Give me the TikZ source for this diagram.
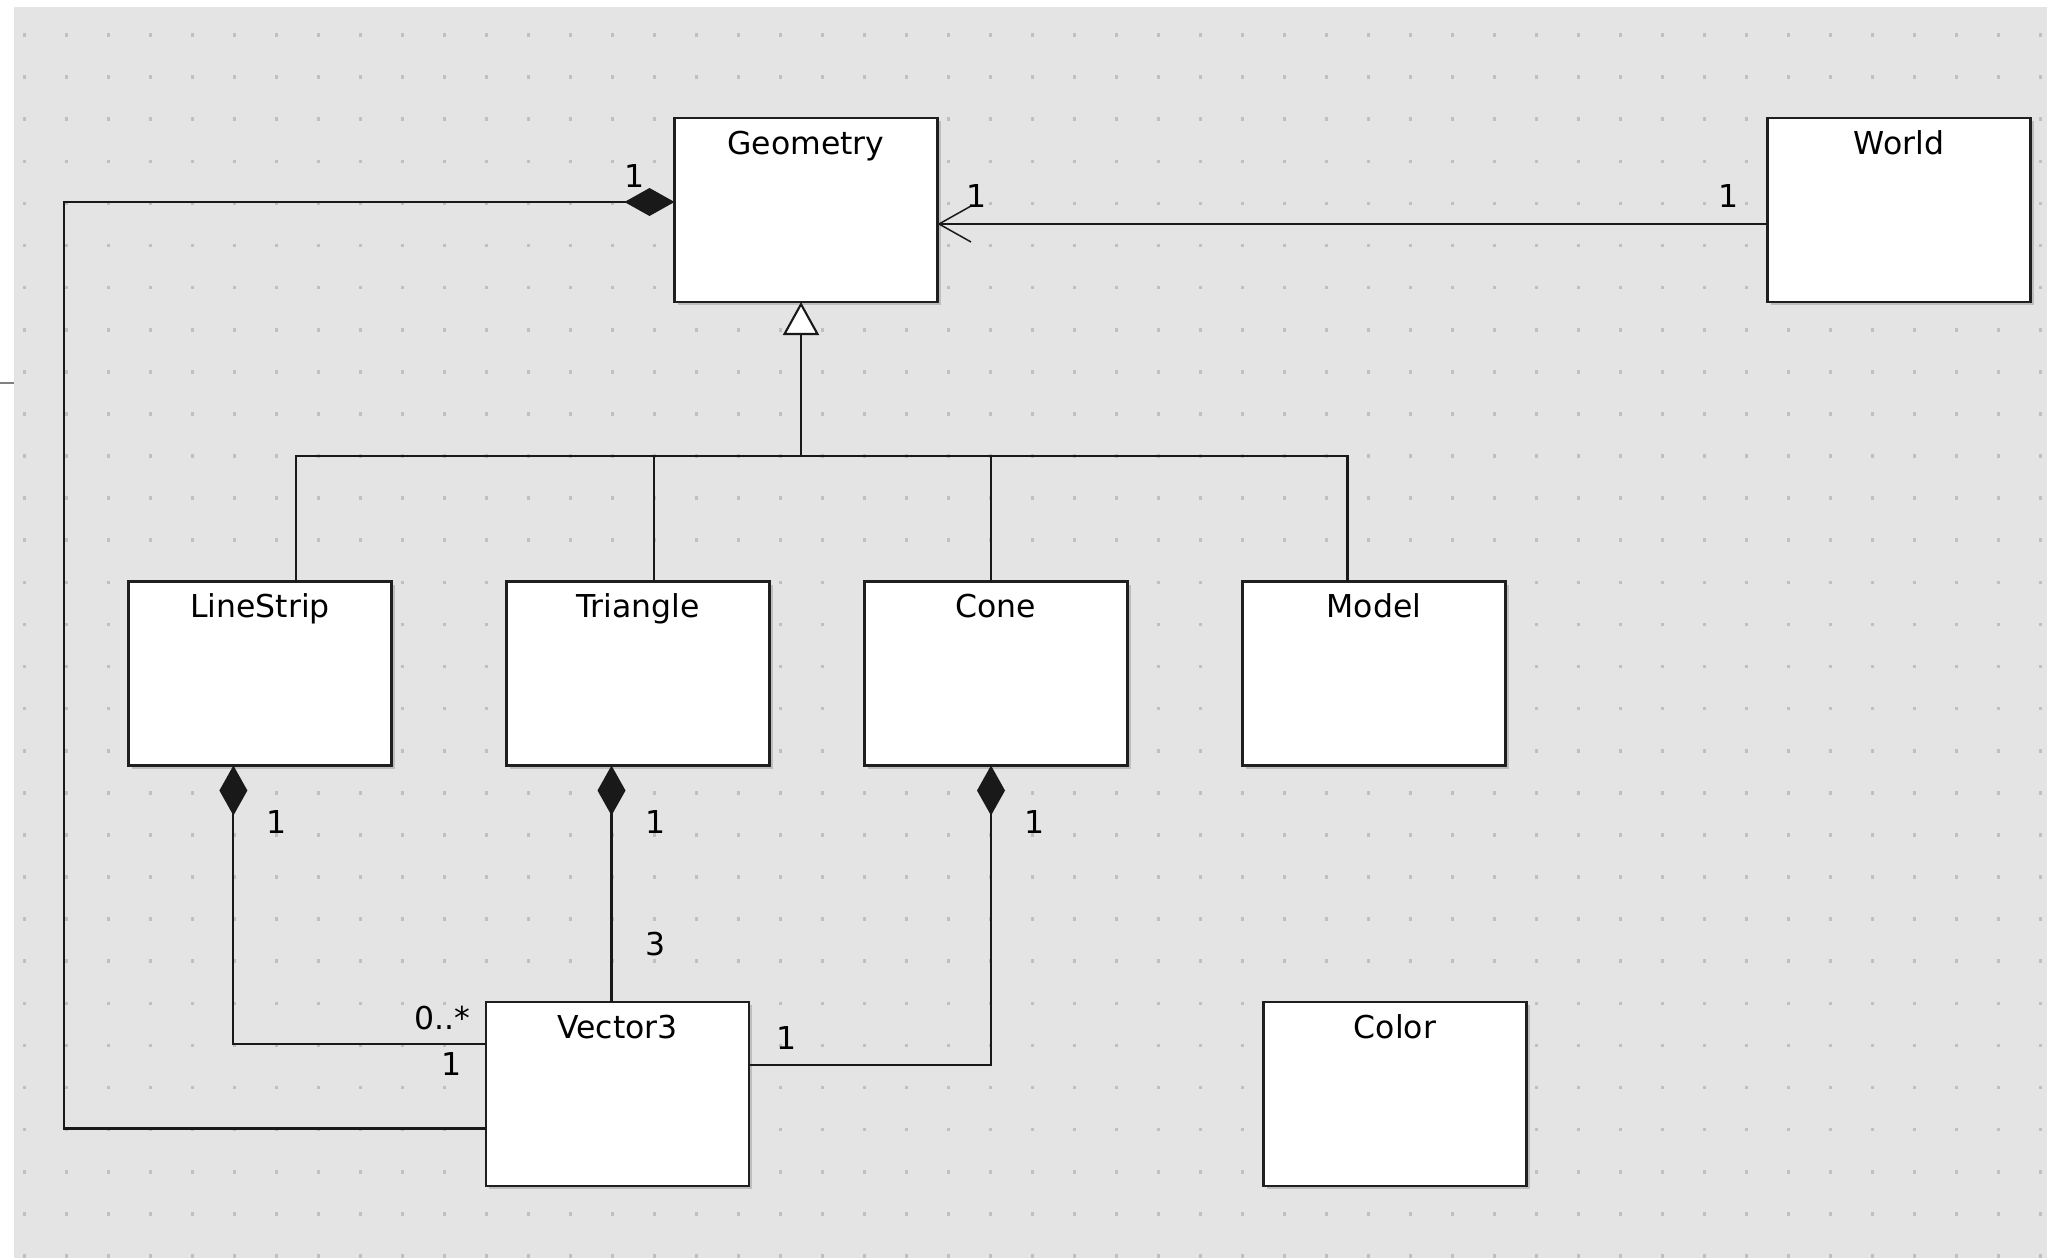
\documentclass[tikz,border=0pt]{standalone}
\usepackage{fontspec}
\setmainfont{DejaVu Sans}
\usetikzlibrary{arrows.meta,shadows}
\definecolor{bg}{HTML}{E4E4E4}
\definecolor{dotc}{HTML}{C0C0C0}
\begin{document}
\begin{tikzpicture}[x=1pt,y=-1pt,
  cls/.style={draw=black!88, line width=2.5pt, fill=white, minimum width=263pt, minimum height=184pt, inner sep=0pt, outer sep=0pt,
    drop shadow={shadow xshift=3pt, shadow yshift=-3pt, fill=black!40, opacity=.5}},
  clsname/.style={anchor=base, font=\fontsize{31.5}{38}\selectfont, inner sep=0pt},
  mult/.style={font=\fontsize{31.5}{38}\selectfont, inner sep=0pt},
  conn/.style={line width=2.1pt, black!90},
  comp/.style={conn, {Diamond[length=50pt,width=28pt]}-},
  gen/.style={conn, -{Triangle[length=33pt,width=36pt,fill=white]}},
  nav/.style={conn, -{Straight Barb[length=32pt,width=36pt,line width=1.5pt]}}
]
\useasboundingbox (0,0) rectangle (2047,1258);
\fill[white] (0,0) rectangle (2047,1258);
\fill[bg] (14,7) rectangle (2047,1258);
\draw[gray, line width=1.5pt] (0,383) -- (14,383);
\foreach \i in {0,...,48}{
  \foreach \j in {0,...,29}{
    \fill[dotc] ({24+42*\i-1.5},{35+42.1*\j-1.8}) rectangle ++(3,3.6);
  }
}
% classes
\node[cls] (geo) at (806,210) {};
\node[cls] (world) at (1899,210) {};
\node[cls] (ls) at (260,673.5) {};
\node[cls] (tri) at (638,673.5) {};
\node[cls] (cone) at (996,673.5) {};
\node[cls] (model) at (1374,673.5) {};
\node[cls] (vec) at (617.5,1094) {};
\node[cls] (color) at (1395,1094) {};
\node[clsname] (geot) at ([yshift=-36pt]geo.north) {Geometry};
\node[clsname] (worldt) at ([yshift=-36pt]world.north) {World};
\node[clsname] (lst) at ([yshift=-36pt]ls.north) {LineStrip};
\node[clsname] (trit) at ([yshift=-36pt]tri.north) {Triangle};
\node[clsname] (conet) at ([yshift=-36pt]cone.north) {Cone};
\node[clsname] (modelt) at ([yshift=-36pt]model.north) {Model};
\node[clsname] (vect) at ([yshift=-36pt]vec.north) {Vector3};
\node[clsname] (colort) at ([yshift=-36pt]color.north) {Color};
% generalization tree
\coordinate (jn) at (801,456);
\coordinate (gs) at ([xshift=-5pt]geo.south);
\draw[gen] (jn) -- (gs);
\draw[conn] ([xshift=36pt]ls.north) |- (jn);
\draw[conn] ([xshift=15.6pt]tri.north) |- (jn);
\draw[conn] ([xshift=-5pt]cone.north) |- (jn);
\draw[conn] ([xshift=-26.5pt]model.north) |- (jn);
% navigable association World -> Geometry
\draw[nav] ([yshift=-14pt]world.west) -- ([yshift=-14pt]geo.east);
% compositions
\coordinate (cl) at (64,1128.5);
\draw[comp] ([yshift=8pt]geo.west) -| (cl) -- ([yshift=-34.5pt]vec.west);
\draw[comp] ([xshift=-26.6pt]ls.south) |- ([yshift=50pt]vec.west);
\coordinate (tcs) at ([xshift=-26.5pt]tri.south);
\draw[comp] (tcs) -- (tcs |- vec.north);
\draw[comp] ([xshift=-5pt]cone.south) |- ([yshift=29pt]vec.east);
% multiplicities
\node[mult] (m1) at (635,176) {1};
\node[mult] (m2) at (977,196) {1};
\node[mult] (m3) at (1728,196) {1};
\node[mult] (m4) at (277,822) {1};
\node[mult] (m5) at (656,822) {1};
\node[mult] (m6) at (1035,822) {1};
\node[mult] (m7) at (655.5,944) {3};
\node[mult] (m8) at (442,1018) {0..*};
\node[mult] (m9) at (451.5,1064) {1};
\node[mult] (m10) at (786.5,1038) {1};
\end{tikzpicture}
\end{document}
